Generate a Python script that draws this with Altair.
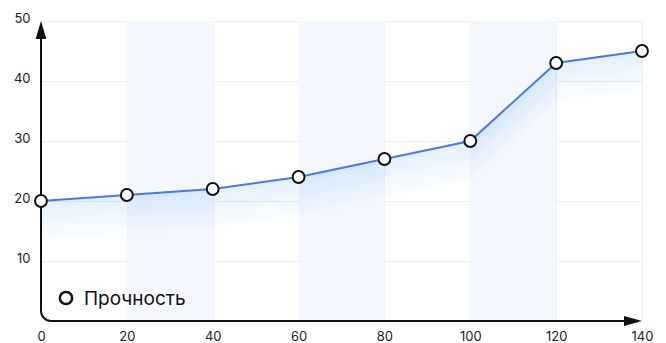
import altair as alt
import pandas as pd
import math

# data
x_vals = [0, 20, 40, 60, 80, 100, 120, 140]
y_vals = [20, 21, 22, 24, 27, 30, 43, 45]
band_start = [20, 60, 100]
band_end = [40, 80, 120]
x_ticks = [0, 20, 40, 60, 80, 100, 120, 140]
y_ticks = [10, 20, 30, 40, 50]
series_name = "Прочность"

df = pd.DataFrame({"x": x_vals, "y": y_vals})
bands = pd.DataFrame({"x0": band_start, "x1": band_end})

FONT = "Inter"
LINE = "#4a78e8"
GLOW = "#3f86f2"
INK = "#111111"

xs = alt.Scale(domain=[0, 140], nice=False, zero=False)
ys = alt.Scale(domain=[0, 50], nice=False)

xaxis = alt.Axis(values=x_ticks, grid=True, gridColor="#eceef3", gridWidth=1,
                 domain=False, ticks=False, labelPadding=9, labelFontSize=13,
                 labelFont=FONT, labelColor="#222", title=None, labelFlush=False)
yaxis = alt.Axis(values=y_ticks, grid=True, gridColor="#eceef3", gridWidth=1,
                 domain=False, ticks=False, labelPadding=11, labelFontSize=13,
                 labelFont=FONT, labelColor="#222", title=None, labelOffset=-3)

band_layer = alt.Chart(bands).mark_rect(color="#f4f7fe").encode(
    x=alt.X("x0:Q", scale=xs, axis=xaxis),
    x2="x1:Q",
    y=alt.datum(0, scale=ys, axis=yaxis),
    y2=alt.datum(50),
)

# soft glow under the line: stacked translucent bands following the line
glow_layers = []
for i in range(1, 15):
    k = 0.5 * i
    glow_layers.append(
        alt.Chart(df).transform_calculate(lo=f"max(datum.y - {k}, 0)")
        .mark_area(color=GLOW, opacity=0.011, line=False)
        .encode(x=alt.X("x:Q", scale=xs), y=alt.Y("y:Q", scale=ys), y2="lo:Q")
    )

line = alt.Chart(df).mark_line(color=LINE, strokeWidth=2).encode(
    x=alt.X("x:Q", scale=xs), y=alt.Y("y:Q", scale=ys))

pts = alt.Chart(df).mark_point(shape="circle", filled=True, fill="white",
                               stroke=INK, strokeWidth=2, size=140, opacity=1).encode(
    x=alt.X("x:Q", scale=xs), y=alt.Y("y:Q", scale=ys))

base = alt.Chart(pd.DataFrame({"a": [0]}))

yline = base.mark_rule(color=INK, strokeWidth=2).encode(
    x=alt.datum(0, scale=xs), y=alt.datum(48, scale=ys), y2=alt.value(290))
xline = base.mark_rule(color=INK, strokeWidth=2).encode(
    x=alt.datum(136, scale=xs), x2=alt.value(10), y=alt.datum(0, scale=ys))
corner = base.mark_arc(color=INK, radius=11, radius2=9, theta=math.pi,
                       theta2=1.5 * math.pi).encode(
    x=alt.value(10), y=alt.value(290))
yarrow = base.mark_point(shape="M0,-1L0.6,1L-0.6,1Z", filled=True, color=INK,
                         size=324, opacity=1, yOffset=9).encode(
    x=alt.datum(0, scale=xs), y=alt.datum(50, scale=ys))
xarrow = base.mark_point(shape="M1,0L-1,-0.55L-1,0.55Z", filled=True, color=INK,
                         size=324, opacity=1, xOffset=-9).encode(
    x=alt.datum(140, scale=xs), y=alt.datum(0, scale=ys))

leg_pt = base.mark_point(shape="circle", filled=True, fill="white", stroke=INK,
                         strokeWidth=2.5, size=150, opacity=1).encode(
    x=alt.value(25), y=alt.value(277))
leg_tx = base.mark_text(align="left", baseline="middle", font=FONT, fontSize=19,
                        color=INK).encode(
    x=alt.value(43), y=alt.value(278), text=alt.datum(series_name))

chart = alt.layer(band_layer, *glow_layers, line, yline, xline, corner, yarrow,
                  xarrow, pts, leg_pt, leg_tx).properties(
    width=601, height=300,
    autosize=alt.AutoSizeParams(type="none"),
    padding={"left": 41, "top": 21, "right": 24, "bottom": 22},
).configure_view(stroke=None)

chart.save("out.html", embed_options={"renderer": "svg", "actions": False})
